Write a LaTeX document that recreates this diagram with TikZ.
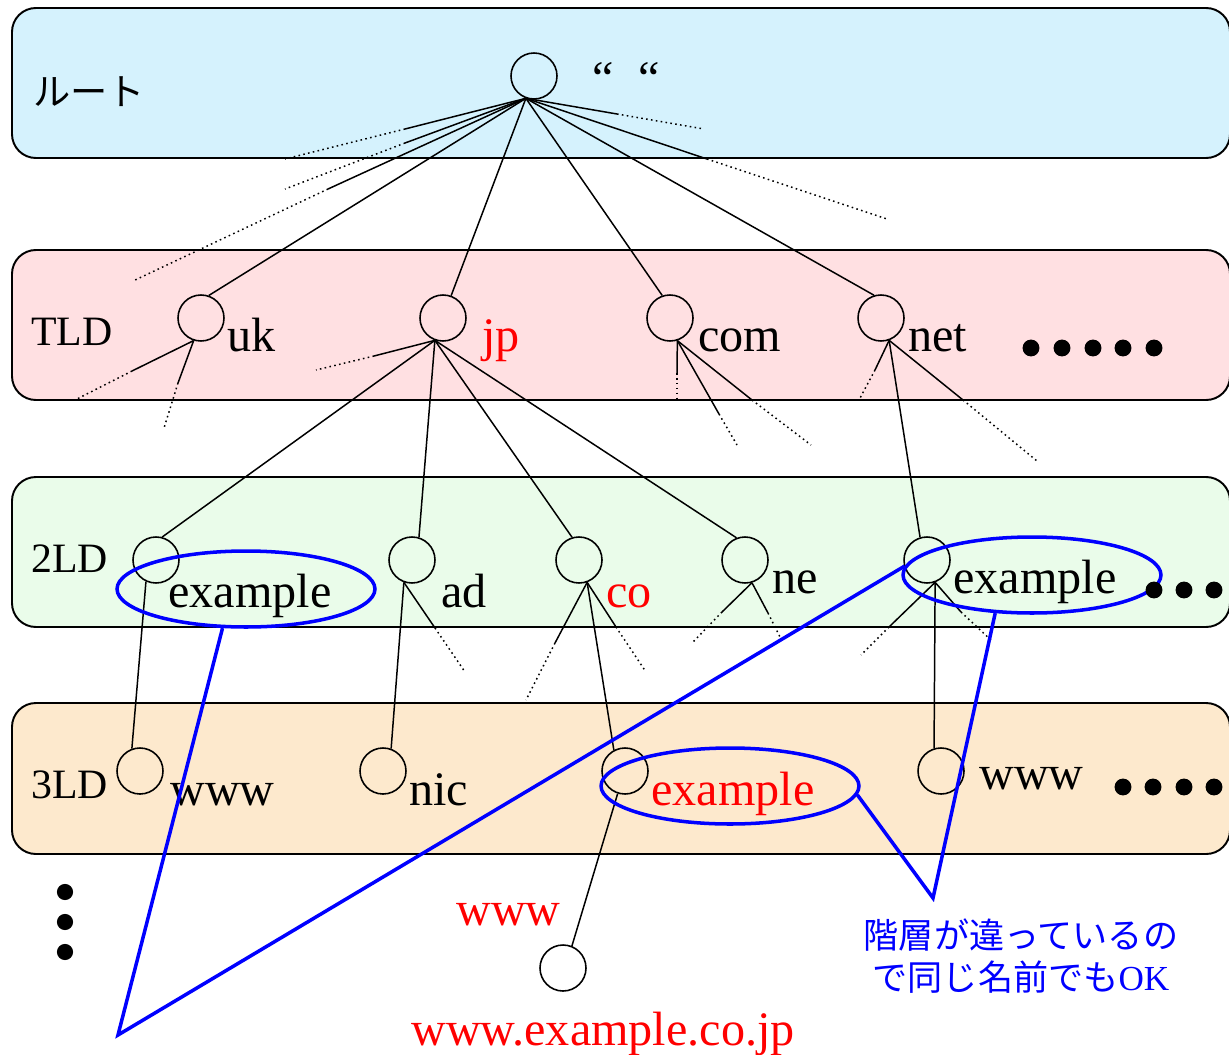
\documentclass[tikz,border=0pt]{standalone}
\usepackage{fontspec}
\setmainfont{Liberation Serif}
\newfontfamily\jfont{Noto Sans CJK JP}
\usepackage{xcolor}
\usepackage{tikz}
\usetikzlibrary{shapes.geometric}

\definecolor{rootbg}{RGB}{213,242,253}
\definecolor{tldbg}{RGB}{255,224,226}
\definecolor{sldbg}{RGB}{234,252,234}
\definecolor{thirdbg}{RGB}{253,233,205}

% solid piece, then dotted piece
\newcommand{\stub}[3]{\draw[link] (#1) -- (#2); \draw[link, dotpart] (#2) -- (#3);}

\begin{document}
\begin{tikzpicture}[x=0.02cm, y=-0.02cm,
    band/.style={draw, line width=1.1pt, rounded corners=13.6pt},
    dom/.style={draw, circle, line width=0.9pt, minimum size=0.92cm, inner sep=0pt},
    link/.style={line width=0.85pt},
    dotpart/.style={dash pattern=on 0.9pt off 1.9pt},
    domlbl/.style={anchor=base west, inner sep=0pt, font=\fontsize{27.4}{31}\selectfont},
    levellbl/.style={anchor=base west, inner sep=0pt, font=\fontsize{23.8}{28}\selectfont},
    ring/.style={draw=blue, ellipse, line width=2pt, minimum width=5.16cm, minimum height=1.52cm, inner sep=0pt},
    callout/.style={draw=blue, line width=2pt}]
    \useasboundingbox (0,0) rectangle (1229,1054);

    % layers
    \filldraw[band, fill=rootbg] (12,8) rectangle (1230,158);
    \filldraw[band, fill=tldbg] (12,250) rectangle (1230,400);
    \filldraw[band, fill=sldbg] (12,477) rectangle (1230,627);
    \filldraw[band, fill=thirdbg] (12,703) rectangle (1230,854);

    \node[levellbl, font=\jfont\fontsize{21.2}{25}\selectfont] (rootlbl) at (33,106) {ルート};
    \node[levellbl] (tldlbl) at (31,345) {TLD};
    \node[levellbl] (sldlbl) at (31,572) {2LD};
    \node[levellbl] (thirdlbl) at (31,798) {3LD};

    % domain nodes
    \node[dom] (root) at (534,76) {};
    \node[dom] (uk) at (201,318) {};
    \node[dom] (jp) at (443,318) {};
    \node[dom] (com) at (670,318) {};
    \node[dom] (net) at (881,318) {};
    \node[dom] (exjp) at (156,560) {};
    \node[dom] (ad) at (412,560) {};
    \node[dom] (co) at (579,560) {};
    \node[dom] (ne) at (745,560) {};
    \node[dom] (exnet) at (927,560) {};
    \node[dom] (wwwjp) at (140,771) {};
    \node[dom] (nic) at (383,771) {};
    \node[dom] (excojp) at (625,771) {};
    \node[dom] (wwwnet) at (941,771) {};
    \node[dom] (wwwco) at (563,968) {};

    \node[domlbl] (quote) at (592,95) {“\hspace{14pt}“};
    \node[domlbl] (uklbl) at (227,351) {uk};
    \node[domlbl, text=red] (jplbl) at (482,351) {jp};
    \node[domlbl] (comlbl) at (698,351) {com};
    \node[domlbl] (netlbl) at (908,351) {net};
    \node[domlbl] (exjplbl) at (168,607) {example};
    \node[domlbl] (adlbl) at (441,607) {ad};
    \node[domlbl, text=red] (colbl) at (606,607) {co};
    \node[domlbl] (nelbl) at (772,593) {ne};
    \node[domlbl] (exnetlbl) at (953,593) {example};
    \node[domlbl] (wwwjplbl) at (170,805) {www};
    \node[domlbl] (niclbl) at (409,805) {nic};
    \node[domlbl, text=red] (excojplbl) at (651,805) {example};
    \node[domlbl] (wwwnetlbl) at (979,789) {www};
    \node[domlbl, text=red] (wwwcolbl) at (456,925) {www};
    \node[domlbl, text=red] (fqdn) at (411,1045) {www.example.co.jp};

    % tree
    \draw[link] (root.250) -- (uk.71);
    \draw[link] (root.250) -- (jp.70);
    \draw[link] (root.250) -- (com.109);
    \draw[link] (root.250) -- (net.107);
    \draw[link] (jp.250) -- (exjp.75);
    \draw[link] (jp.250) -- (ad.73);
    \draw[link] (jp.250) -- (co.107);
    \draw[link] (jp.250) -- (ne.111);
    \draw[link] (net.290) -- (exnet.107);
    \draw[link] (exjp.245) -- (wwwjp.110);
    \draw[link] (ad.250) -- (nic.70);
    \draw[link] (co.290) -- (excojp.118);
    \draw[link] (exnet.290) -- (wwwnet.107);
    \draw[link] (excojp.252) -- (wwwco.68);

    % branches that are cut off
    \coordinate (r1m) at (405,129); \coordinate (r1e) at (285,159);
    \coordinate (r2m) at (405,143); \coordinate (r2e) at (285,189);
    \coordinate (r3m) at (328,189); \coordinate (r3e) at (133,281);
    \coordinate (r4m) at (617,114); \coordinate (r4e) at (704,129);
    \coordinate (r5m) at (707,159); \coordinate (r5e) at (887,219);
    \coordinate (u1m) at (132,371); \coordinate (u1e) at (75,400);
    \coordinate (u2m) at (178,383); \coordinate (u2e) at (164,428);
    \coordinate (j1m) at (374,356); \coordinate (j1e) at (316,370);
    \coordinate (c1m) at (677,373); \coordinate (c1e) at (677,400);
    \coordinate (c2m) at (719,414); \coordinate (c2e) at (737,445);
    \coordinate (c3m) at (752,400); \coordinate (c3e) at (811,445);
    \coordinate (n1m) at (875,370); \coordinate (n1e) at (859,400);
    \coordinate (n2m) at (963,400); \coordinate (n2e) at (1037,461);
    \coordinate (a1m) at (435,628); \coordinate (a1e) at (465,672);
    \coordinate (o1m) at (555,643); \coordinate (o1e) at (526,700);
    \coordinate (o2m) at (616,627); \coordinate (o2e) at (646,672);
    \coordinate (e1m) at (722,612); \coordinate (e1e) at (693,642);
    \coordinate (e2m) at (768,613); \coordinate (e2e) at (780,637);
    \coordinate (x1m) at (889,627); \coordinate (x1e) at (861,655);
    \coordinate (x2m) at (961,612); \coordinate (x2e) at (993,642);

    \stub{root.250}{r1m}{r1e}
    \stub{root.250}{r2m}{r2e}
    \stub{root.250}{r3m}{r3e}
    \stub{root.250}{r4m}{r4e}
    \stub{root.250}{r5m}{r5e}
    \stub{uk.252}{u1m}{u1e}
    \stub{uk.252}{u2m}{u2e}
    \stub{jp.250}{j1m}{j1e}
    \stub{com.288}{c1m}{c1e}
    \stub{com.288}{c2m}{c2e}
    \stub{com.288}{c3m}{c3e}
    \stub{net.290}{n1m}{n1e}
    \stub{net.290}{n2m}{n2e}
    \stub{ad.250}{a1m}{a1e}
    \stub{co.290}{o1m}{o1e}
    \stub{co.290}{o2m}{o2e}
    \stub{ne.287}{e1m}{e1e}
    \stub{ne.287}{e2m}{e2e}
    \stub{exnet.290}{x1m}{x1e}
    \stub{exnet.290}{x2m}{x2e}

    % same name on different levels
    \node[ring] (ring1) at (246,589) {};
    \node[ring] (ring2) at (1032,575) {};
    \node[ring] (ring3) at (730,786) {};
    \coordinate (apexA) at (118,1035);
    \coordinate (apexB) at (933,898);
    \draw[callout] (ring1.239) -- (apexA) -- (ring2.176);
    \draw[callout] (ring3.356) -- (apexB) -- (ring2.226);
    \node[font=\jfont\fontsize{20}{23.8}\selectfont, text=blue, align=center] (note) at (1021,956)
        {階層が違っているの\\で同じ名前でも{\rmfamily OK}};

    % more of the same
    \foreach \x in {1031,1062,1093,1123,1154} \fill (\x,348) circle (4.8pt);
    \foreach \x in {1154,1184,1214} \fill (\x,590) circle (4.8pt);
    \foreach \x in {1123,1153,1184,1214} \fill (\x,787) circle (4.8pt);
    \foreach \y in {892,922,952} \fill (65,\y) circle (4.6pt);
\end{tikzpicture}
\end{document}
